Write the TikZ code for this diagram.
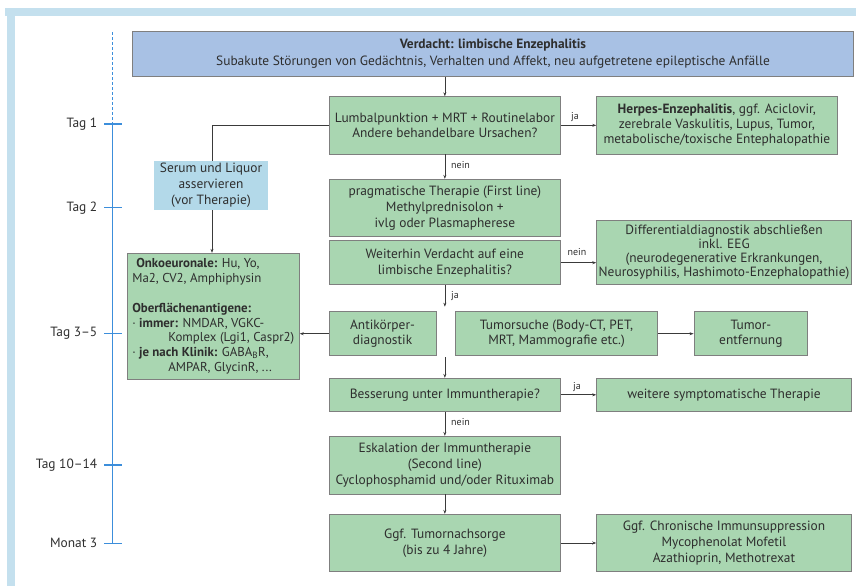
\documentclass[tikz,border=0pt]{standalone}
\usepackage{fontspec}
\setmainfont{PT Sans}
\usetikzlibrary{arrows.meta}
\definecolor{framecol}{HTML}{C4E0EE}
\definecolor{hdrfill}{HTML}{A8C1E4}
\definecolor{gfill}{HTML}{A9D6B1}
\definecolor{sfill}{HTML}{B3D9E9}
\definecolor{bline}{HTML}{7F7F7F}
\definecolor{txt}{HTML}{2E2E2E}
\definecolor{arrcol}{HTML}{3A3A3A}
\definecolor{tlcol}{HTML}{3C8EDB}
\newcommand\mainfs{\fontsize{13.4}{15.8}\selectfont}
\newcommand\smallfs{\fontsize{10}{11}\selectfont}
\begin{document}
\begin{tikzpicture}[x=1pt,y=-1pt,
  gbox/.style={draw=bline, line width=0.9pt, fill=gfill, inner sep=0pt, align=center, font=\mainfs, text=txt},
  hbox/.style={gbox, fill=hdrfill},
  sbox/.style={fill=sfill, inner sep=0pt, align=center, font=\mainfs, text=txt},
  arr/.style={draw=arrcol, line width=0.7pt, -{Stealth[length=4pt,width=3pt]}},
  conn/.style={draw=arrcol, line width=0.7pt},
  lbl/.style={font=\smallfs, text=txt, inner sep=1pt},
  tlabel/.style={font=\mainfs, text=txt, anchor=east, inner sep=0pt},
  tick/.style={draw=tlcol, line width=1.2pt}]
\useasboundingbox (0,0) rectangle (856,586);
% frame
\fill[framecol] (5,8) rectangle (856,16);
\fill[framecol] (7,8) rectangle (15,586);
% timeline
\draw[tlcol, line width=1.2pt, dash pattern=on 2.5pt off 2.5pt] (112.7,32.3) -- (112.7,124);
\draw[tlcol, line width=1.4pt] (112.7,124) -- (112.7,543.3);
\foreach \yy/\tt in {124/Tag 1, 207.7/Tag 2, 333.7/Tag 3--5, 465/Tag 10--14, 543.3/Monat 3}{
  \draw[tick] (104,\yy) -- (121.7,\yy);
  \node[tlabel] at (97.5,\yy) {\tt};
}
% header
\node[hbox, minimum width=721.4, minimum height=45, font=\fontsize{13.4}{17}\selectfont] (hdr) at (493,53.8)
  {\textbf{Verdacht: limbische Enzephalitis}\\Subakute Störungen von Gedächtnis, Verhalten und Affekt, neu aufgetretene epileptische Anfälle};
% main column
\node[gbox, minimum width=231.7, minimum height=57.3] (lumb) at (444.85,125.35)
  {Lumbalpunktion + MRT + Routinelabor\\Andere behandelbare Ursachen?};
\node[gbox, minimum width=240.3, minimum height=57.3, font=\fontsize{13.4}{15}\selectfont] (herp) at (716.85,125.35)
  {\textbf{Herpes-Enzephalitis}, ggf. Aciclovir,\\zerebrale Vaskulitis, Lupus, Tumor,\\metabolische/toxische Entephalopathie};
\node[sbox, minimum width=114, minimum height=49.3] (serum) at (211,185.35)
  {Serum und Liquor\\asservieren\\(vor Therapie)};
\node[gbox, minimum width=231.7, minimum height=57.4] (prag) at (444.85,208)
  {pragmatische Therapie (First line)\\Methylprednisolon +\\ivlg oder Plasmapherese};
\node[gbox, minimum width=231.7, minimum height=44] (weit) at (444.85,262.7)
  {Weiterhin Verdacht auf eine\\limbische Enzephalitis?};
\node[gbox, minimum width=254.6, minimum height=64.3, font=\fontsize{13.4}{13.8}\selectfont] (diff) at (724,252.15)
  {Differentialdiagnostik abschließen\\inkl. EEG\\(neurodegenerative Erkrankungen,\\Neurosyphilis, Hashimoto-Enzephalopathie)};
\node[gbox, minimum width=172, minimum height=126, align=left, font=\fontsize{12.9}{14.86}\selectfont] (onko) at (213.3,316.3)
  {\hspace*{4pt}\textbf{Onkoeuronale:} Hu, Yo,\\
   Ma2, CV2, Amphiphysin\\
   \mbox{}\\
   \textbf{Oberflächenantigene:}\\
   · \textbf{immer:} NMDAR, VGKC-\\
   \hspace*{36pt}Komplex (Lgi1, Caspr2)\\
   · \textbf{je nach Klinik:} GABA\textsubscript{B}R,\\
   \hspace*{36pt}AMPAR, GlycinR, ...};
\node[gbox, minimum width=107, minimum height=44] (anti) at (382.5,333.7)
  {Antikörper-\\diagnostik};
\node[gbox, minimum width=202.4, minimum height=44] (tums) at (556.5,333.7)
  {Tumorsuche (Body-CT, PET,\\MRT, Mammografie etc.)};
\node[gbox, minimum width=113.7, minimum height=44] (tume) at (750.85,333.7)
  {Tumor-\\entfernung};
\node[gbox, minimum width=231.7, minimum height=33] (bess) at (444.85,394.8)
  {Besserung unter Immuntherapie?};
\node[gbox, minimum width=254.6, minimum height=33] (weit2) at (724,394.8)
  {weitere symptomatische Therapie};
\node[gbox, minimum width=231.7, minimum height=57.7] (eska) at (444.85,465.15)
  {Eskalation der Immuntherapie\\(Second line)\\Cyclophosphamid und/oder Rituximab};
\node[gbox, minimum width=231.7, minimum height=57.4] (nach) at (444.85,543)
  {Ggf. Tumornachsorge\\(bis zu 4 Jahre)};
\node[gbox, minimum width=254.6, minimum height=57.4, font=\fontsize{13.4}{16.2}\selectfont] (chro) at (724,543)
  {Ggf. Chronische Immunsuppression\\Mycophenolat Mofetil\\Azathioprin, Methotrexat};
% helper coordinates
\coordinate (jaend) at (444.85,306.7);
\coordinate (gapstart) at (444.85,357);
\coordinate (corner) at (212,125.35);
% connectors
\draw[arr] (hdr.south -| lumb.north) -- (lumb.north);
\draw[arr] (lumb.east) -- (herp.west);
\node[lbl] at (575,117.5) {ja};
\draw[conn] (lumb.west) -- (corner) -- (serum.north -| corner);
\draw[arr] (serum.south -| corner) -- (onko.north -| corner);
\draw[arr] (lumb.south) -- (prag.north);
\node[lbl, anchor=west] at (450,165) {nein};
\draw[arr] (weit.east) -- (weit.east -| diff.west);
\node[lbl] at (577,252.5) {nein};
\draw[arr] (weit.south) -- (jaend);
\node[lbl, anchor=west] at (450,295.7) {ja};
\draw[arr] (anti.west) -- (anti.west -| onko.east);
\draw[arr] (tums.east) -- (tume.west);
\draw[arr] (gapstart) -- (bess.north);
\draw[arr] (bess.east) -- (weit2.west);
\node[lbl] at (577,386.7) {ja};
\draw[arr] (bess.south) -- (eska.north);
\node[lbl, anchor=west] at (450,422.3) {nein};
\draw[arr] (eska.south) -- (nach.north);
\draw[arr] (nach.east) -- (chro.west);
\end{tikzpicture}
\end{document}
